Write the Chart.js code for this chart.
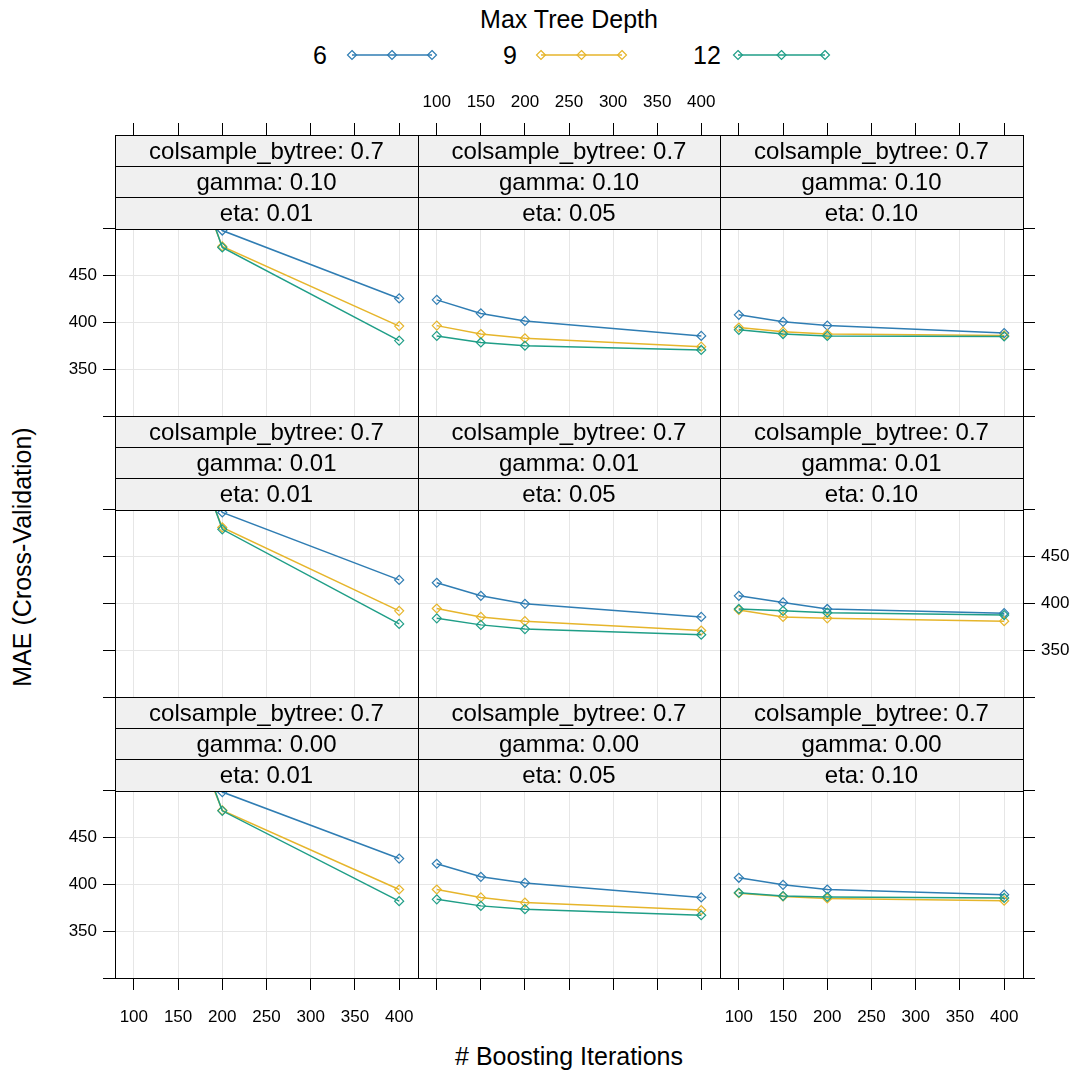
<!DOCTYPE html>
<html>
<head>
<meta charset="utf-8">
<script src="https://cdn.jsdelivr.net/npm/chart.js@4.4.1/dist/chart.umd.min.js"></script>
<style>
  html, body { margin: 0; padding: 0; background: #fff; }
  body { width: 1086px; height: 1075px; position: relative; overflow: hidden;
         font-family: "Liberation Sans", Arial, sans-serif; color: #000; }
  canvas { position: absolute; }
  .txt { position: absolute; white-space: nowrap; line-height: 1; }
</style>
</head>
<body>
<div class="txt" id="legendTitle" style="left:569px;top:19px;font-size:25px;transform:translate(-50%,-50%);">Max Tree Depth</div>
<div id="legendItems"></div>
<div class="txt" style="left:569px;top:1056px;font-size:25px;transform:translate(-50%,-50%);"># Boosting Iterations</div>
<div class="txt" style="left:22px;top:557px;font-size:25px;transform:translate(-50%,-50%) rotate(-90deg);">MAE (Cross-Validation)</div>

<script>
// ---- data ----
const iterations = [100, 150, 200, 400];
const depthLabels = ['6', '9', '12'];
const depthColors = ['#2f7db3', '#e6b52b', '#1f9e87'];
const colsampleLevel = '0.7';
const gammaLevels = ['0.10', '0.01', '0.00'];   // panel rows, top to bottom
const etaLevels = ['0.01', '0.05', '0.10'];     // panel columns, left to right
const xTickValues = [100, 150, 200, 250, 300, 350, 400];
const yTickValues = [300, 350, 400, 450, 500];
const yTickLabels = [350, 400, 450];

// MAE at 100, 150, 200, 400 iterations, per gamma / eta / depth
const g010_e001_d6  = [760, 560, 498, 425.5];
const g010_e001_d9  = [790, 603, 481, 396];
const g010_e001_d12 = [800, 615, 480, 380.5];
const g010_e005_d6  = [424, 409.5, 401.5, 385.5];
const g010_e005_d9  = [396.5, 387.5, 383, 374];
const g010_e005_d12 = [385.5, 378.5, 375, 370.5];
const g010_e010_d6  = [408, 400.5, 396.5, 388.5];
const g010_e010_d9  = [394.5, 390, 387.5, 386];
const g010_e010_d12 = [392, 387.5, 385.5, 385];

const g001_e001_d6  = [760, 565, 497, 425];
const g001_e001_d9  = [790, 600, 481, 392];
const g001_e001_d12 = [800, 612, 479, 378];
const g001_e005_d6  = [422, 408, 399.5, 385.5];
const g001_e005_d9  = [394.5, 385.5, 381, 371];
const g001_e005_d12 = [384, 377, 372.5, 366.5];
const g001_e010_d6  = [408, 401, 394, 389.5];
const g001_e010_d9  = [393, 385.5, 384, 381];
const g001_e010_d12 = [394, 392, 390, 387.5];

const g000_e001_d6  = [760, 570, 498.5, 427.5];
const g000_e001_d9  = [785, 598, 479, 394.5];
const g000_e001_d12 = [795, 608, 478.5, 382];
const g000_e005_d6  = [422, 408, 401.5, 386];
const g000_e005_d9  = [394.5, 386, 380.5, 372.5];
const g000_e005_d12 = [384, 377, 373.5, 367];
const g000_e010_d6  = [407, 399.5, 394.5, 389];
const g000_e010_d9  = [390.5, 387, 385, 382.5];
const g000_e010_d12 = [391, 387.5, 386.5, 385.5];

const panelSeries = [
  [[g010_e001_d6, g010_e001_d9, g010_e001_d12],
   [g010_e005_d6, g010_e005_d9, g010_e005_d12],
   [g010_e010_d6, g010_e010_d9, g010_e010_d12]],
  [[g001_e001_d6, g001_e001_d9, g001_e001_d12],
   [g001_e005_d6, g001_e005_d9, g001_e005_d12],
   [g001_e010_d6, g001_e010_d9, g001_e010_d12]],
  [[g000_e001_d6, g000_e001_d9, g000_e001_d12],
   [g000_e005_d6, g000_e005_d9, g000_e005_d12],
   [g000_e010_d6, g000_e010_d9, g000_e010_d12]]
];

// ---- layout ----
const colLeft = [115, 418, 720];
const colWidth = [303, 302, 303];
const rowTop = [135, 416, 697];     // top of the strip block of each row
const rowHeight = 281;              // strips + panel
const M = { left: 60, right: 60, top: 50, bottom: 50 };
const X_MIN = 78.7, X_MAX = 421.3;
const Y_MIN = 300, Y_PANEL_MAX = 500, Y_MAX = 600;  // 500..600 is covered by the strips
const FONT = '"Liberation Sans", Arial, sans-serif';
const tickFont = { family: FONT, size: 17 };
const GRID = '#e6e6e6';

const crisp = v => Math.round(v) + 0.5;

// strips (three factor labels) above each panel, plus the panel frame
const stripPlugin = {
  id: 'latticeStrips',
  afterDatasetsDraw(chart, args, opts) {
    const { ctx, chartArea: a } = chart;
    const yScale = chart.scales.y;
    const pTop = yScale.getPixelForValue(Y_PANEL_MAX);
    const h = (pTop - a.top) / opts.labels.length;
    const l = crisp(a.left), r = crisp(a.right);
    ctx.save();
    ctx.lineWidth = 1;
    ctx.strokeStyle = '#000';
    opts.labels.forEach((txt, i) => {
      const t = crisp(a.top + i * h), b = crisp(a.top + (i + 1) * h);
      ctx.fillStyle = '#f0f0f0';
      ctx.fillRect(l, t, r - l, b - t);
      ctx.strokeRect(l, t, r - l, b - t);
      ctx.fillStyle = '#000';
      ctx.font = '24px ' + FONT;
      ctx.textAlign = 'center';
      ctx.textBaseline = 'middle';
      ctx.fillText(txt, (a.left + a.right) / 2, (t + b) / 2 + 1);
    });
    ctx.strokeRect(l, crisp(pTop), r - l, crisp(a.bottom) - crisp(pTop));
    ctx.restore();
  }
};

function makePanel(r, c) {
  const cv = document.createElement('canvas');
  const w = colWidth[c] + M.left + M.right;
  const h = rowHeight + M.top + M.bottom;
  cv.width = w; cv.height = h;
  cv.style.left = (colLeft[c] - M.left) + 'px';
  cv.style.top = (rowTop[r] - M.top) + 'px';
  cv.style.width = w + 'px'; cv.style.height = h + 'px';
  document.body.appendChild(cv);

  const datasets = panelSeries[r][c].map((vals, i) => ({
    label: depthLabels[i],
    data: iterations.map((it, k) => ({ x: it, y: vals[k] })),
    borderColor: depthColors[i],
    backgroundColor: 'rgba(0,0,0,0)',
    borderWidth: 1.5,
    pointStyle: 'rectRot',
    pointRadius: 4.5,
    pointBorderWidth: 1.2,
    pointBorderColor: depthColors[i],
    pointBackgroundColor: 'rgba(0,0,0,0)',
    tension: 0,
    clip: 0,
    order: 3 - i
  }));

  const xTicks = s => { s.ticks = xTickValues.map(v => ({ value: v })); };
  const yTicks = s => { s.ticks = yTickValues.map(v => ({ value: v })); };
  const yLabel = v => (yTickLabels.includes(v) ? String(v) : '');

  new Chart(cv, {
    type: 'line',
    data: { datasets },
    options: {
      responsive: false,
      animation: false,
      devicePixelRatio: 1,
      events: [],
      layout: { padding: 0 },
      plugins: {
        legend: { display: false },
        tooltip: { enabled: false },
        latticeStrips: {
          labels: ['colsample_bytree: ' + colsampleLevel,
                   'gamma: ' + gammaLevels[r],
                   'eta: ' + etaLevels[c]]
        }
      },
      scales: {
        x: {
          type: 'linear', position: 'bottom', min: X_MIN, max: X_MAX,
          afterBuildTicks: xTicks,
          afterFit: s => { s.height = M.bottom; },
          border: { display: false },
          grid: { color: GRID, lineWidth: 1, drawTicks: r === 2, tickLength: 12,
                  tickColor: '#000', tickWidth: 1 },
          ticks: { display: r === 2 && c !== 1, font: tickFont, color: '#000',
                   padding: 17, maxRotation: 0, autoSkip: false }
        },
        x2: {
          type: 'linear', position: 'top', min: X_MIN, max: X_MAX,
          afterBuildTicks: xTicks,
          afterFit: s => { s.height = M.top; },
          border: { display: false },
          grid: { drawOnChartArea: false, drawTicks: r === 0, tickLength: 12,
                  tickColor: '#000', tickWidth: 1 },
          ticks: { display: r === 0 && c === 1, font: tickFont, color: '#000',
                   padding: 10, maxRotation: 0, autoSkip: false }
        },
        y: {
          type: 'linear', position: 'left', min: Y_MIN, max: Y_MAX,
          afterBuildTicks: yTicks,
          afterFit: s => { s.width = M.left; },
          border: { display: false },
          grid: { color: GRID, lineWidth: 1, drawTicks: c === 0, tickLength: 12,
                  tickColor: '#000', tickWidth: 1 },
          ticks: { display: c === 0 && r !== 1, callback: yLabel, font: tickFont,
                   color: '#000', padding: 6, autoSkip: false }
        },
        y2: {
          type: 'linear', position: 'right', min: Y_MIN, max: Y_MAX,
          afterBuildTicks: yTicks,
          afterFit: s => { s.width = M.right; },
          border: { display: false },
          grid: { drawOnChartArea: false, drawTicks: c === 2, tickLength: 12,
                  tickColor: '#000', tickWidth: 1 },
          ticks: { display: c === 2 && r === 1, callback: yLabel, font: tickFont,
                   color: '#000', padding: 6, autoSkip: false }
        }
      }
    },
    plugins: [stripPlugin]
  });
}

for (let r = 0; r < 3; r++) for (let c = 0; c < 3; c++) makePanel(r, c);

// ---- legend: "Max Tree Depth" key with line + open diamonds ----
const legendNumX = [320, 510, 707];
const legendLineX = [[352, 432], [541, 622], [738, 825]];
const legendY = 55;
const host = document.getElementById('legendItems');
depthLabels.forEach((lab, i) => {
  const t = document.createElement('div');
  t.className = 'txt';
  t.style.cssText = `left:${legendNumX[i]}px;top:${legendY}px;font-size:25px;transform:translate(-50%,-50%);`;
  t.textContent = lab;
  host.appendChild(t);
  const [x1, x2] = legendLineX[i];
  const svgNS = 'http://www.w3.org/2000/svg';
  const svg = document.createElementNS(svgNS, 'svg');
  svg.setAttribute('width', x2 - x1 + 12);
  svg.setAttribute('height', 14);
  svg.style.cssText = `position:absolute;left:${x1 - 6}px;top:${legendY - 7}px;`;
  const line = document.createElementNS(svgNS, 'line');
  line.setAttribute('x1', 6); line.setAttribute('x2', x2 - x1 + 6);
  line.setAttribute('y1', 7); line.setAttribute('y2', 7);
  line.setAttribute('stroke', depthColors[i]); line.setAttribute('stroke-width', 1.5);
  svg.appendChild(line);
  [0, 0.5, 1].forEach(f => {
    const cx = 6 + f * (x2 - x1), cy = 7, s = 4.5;
    const p = document.createElementNS(svgNS, 'polygon');
    p.setAttribute('points', `${cx},${cy - s} ${cx + s},${cy} ${cx},${cy + s} ${cx - s},${cy}`);
    p.setAttribute('fill', 'none');
    p.setAttribute('stroke', depthColors[i]);
    p.setAttribute('stroke-width', 1.2);
    svg.appendChild(p);
  });
  host.appendChild(svg);
});
</script>
</body>
</html>
